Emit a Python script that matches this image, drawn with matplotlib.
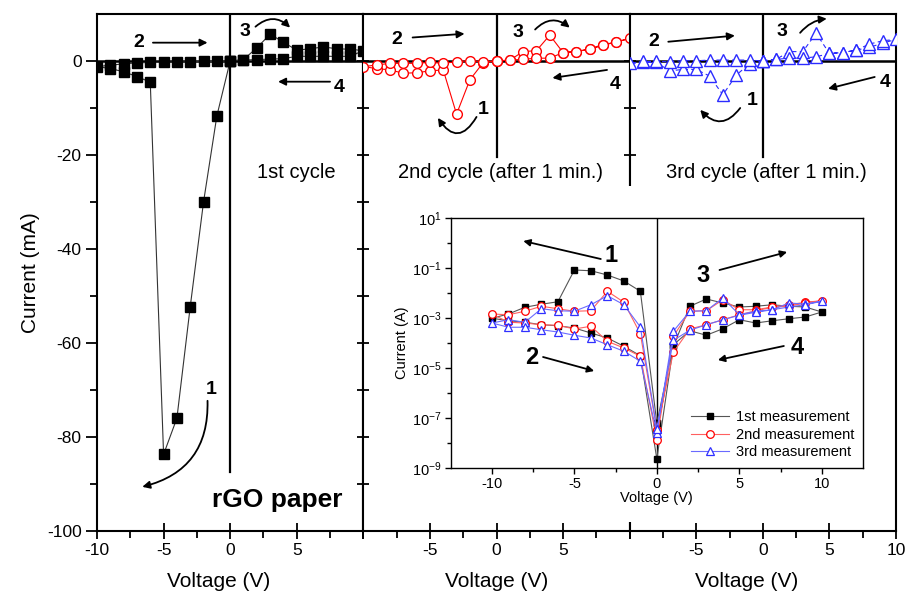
import numpy as np
import matplotlib
matplotlib.use("Agg")
import matplotlib.pyplot as plt
from matplotlib.patches import Rectangle
from matplotlib.ticker import NullFormatter

plt.rcParams['font.family'] = ['Liberation Sans', 'DejaVu Sans']
plt.rcParams['mathtext.fontset'] = 'custom'
plt.rcParams['mathtext.rm'] = 'Liberation Sans'
plt.rcParams['mathtext.it'] = 'Liberation Sans:italic'
plt.rcParams['mathtext.bf'] = 'Liberation Sans:bold'
plt.rcParams['axes.unicode_minus'] = False

# ---------------- data ----------------
# voltage sweep: 0 -> -10 -> 0 -> +10 -> 0 (V)
sweep_voltage = [0, -1, -2, -3, -4, -5, -6, -7, -8, -9, -10,
                 -9, -8, -7, -6, -5, -4, -3, -2, -1, 0,
                 1, 2, 3, 4, 5, 6, 7, 8, 9, 10,
                 9, 8, 7, 6, 5, 4, 3, 2, 1, 0]

# main panels: current (mA)
cycle1_current = [0, -11.7, -30.0, -52.3, -76.0, -83.7, -4.5, -3.3, -2.3, -1.6, -1.2,
                  -0.9, -0.6, -0.4, -0.3, -0.3, -0.2, -0.2, -0.1, -0.1, 0.0,
                  0.3, 2.8, 5.7, 4.0, 2.3, 2.6, 3.0, 2.6, 2.5, 2.2,
                  1.0, 1.0, 1.0, 1.0, 1.0, 0.5, 0.4, 0.3, 0.2, 0.0]
cycle2_current = [0, -0.35, -4.0, -11.3, -1.9, -2.1, -2.5, -2.6, -1.9, -1.6, -1.2,
                  -0.85, -0.5, -0.5, -0.5, -0.3, -0.5, -0.15, 0.05, -0.15, 0.0,
                  0.2, 2.0, 2.2, 5.5, 1.8, 2.0, 2.5, 3.3, 4.1, 4.8,
                  4.0, 3.5, 2.6, 2.0, 1.8, 0.6, 0.6, 0.35, 0.2, 0.0]
cycle3_current = [0, -0.6, -3.0, -7.2, -3.2, -1.8, -1.8, -2.1, -0.3, -0.3, -0.5,
                  -0.1, -0.1, -0.15, 0.05, 0.05, 0.2, 0.2, 0.2, 0.2, 0.0,
                  0.35, 2.0, 2.0, 5.9, 1.6, 1.8, 2.3, 2.9, 3.8, 4.6,
                  4.3, 3.6, 2.3, 1.8, 1.6, 0.9, 0.6, 0.6, 0.35, 0.0]

# inset: log10 of current (A)
inset_log_1st = [-7.2, -1.93, -1.52, -1.28, -1.11, -1.08, -2.35, -2.45, -2.57, -2.84, -3.01,
                 -3.11, -3.17, -3.27, -3.31, -3.40, -3.60, -3.80, -4.13, -4.51, -8.64,
                 -4.13, -2.53, -2.24, -2.40, -2.56, -2.53, -2.47, -2.53, -2.56, -2.76,
                 -2.96, -3.03, -3.11, -3.20, -3.07, -3.43, -3.69, -3.51, -4.07, -7.2]
inset_log_2nd = [-7.47, -3.63, -2.37, -1.93, -2.71, -2.73, -2.63, -2.53, -2.73, -2.87, -2.84,
                 -3.17, -3.20, -3.27, -3.29, -3.44, -3.33, -3.93, -4.20, -4.53, -7.87,
                 -3.73, -2.73, -2.71, -2.27, -2.67, -2.67, -2.56, -2.47, -2.37, -2.31,
                 -2.40, -2.53, -2.57, -2.71, -2.87, -3.07, -3.27, -3.44, -4.37, -7.47]
inset_log_3rd = [-7.44, -3.36, -2.47, -2.11, -2.47, -2.73, -2.71, -2.63, -3.17, -3.07, -3.20,
                 -3.37, -3.37, -3.47, -3.56, -3.69, -3.80, -4.07, -4.33, -4.73, -7.60,
                 -3.53, -2.73, -2.71, -2.20, -2.87, -2.73, -2.67, -2.40, -2.44, -2.33,
                 -2.47, -2.56, -2.67, -2.77, -2.89, -3.07, -3.27, -3.49, -3.89, -7.44]

panel_xticks = [-10, -5, 0, 5, 10]
panel_xticklabels = [['-10', '-5', '0', '5', ''],
                     ['', '-5', '0', '5', ''],
                     ['', '-5', '0', '5', '10']]
panel_titles = ['1st cycle', '2nd cycle (after 1 min.)', '3rd cycle (after 1 min.)']
legend_labels = ['1st measurement', '2nd measurement', '3rd measurement']

# ---------------- figure ----------------
W, H = 907, 603
fig = plt.figure(figsize=(W / 100, H / 100), dpi=100)

left_px, right_px, top_px, bot_px = 97, 896, 14, 531
pw = (right_px - left_px) / 3
axes = []
for i in range(3):
    ax = fig.add_axes([(left_px + i * pw) / W, 1 - bot_px / H, pw / W, (bot_px - top_px) / H])
    axes.append(ax)

styles = [
    dict(color='#333333', lw=0.8, marker='s', ms=7, mfc='black', mec='black', ls='-'),
    dict(color='red', lw=0.8, marker='o', ms=7, mfc='white', mec='red', mew=1.0, ls='-'),
    dict(color='#2b2bff', lw=0.8, marker='^', ms=8, mfc='white', mec='#2b2bff', mew=1.0,
         ls=(0, (4, 3))),
]
currents = [cycle1_current, cycle2_current, cycle3_current]
xlabel_centers = [0.455, 0.5, 0.44]

for i, ax in enumerate(axes):
    ax.set_xlim(-10, 10)
    ax.set_ylim(-100, 10)
    for s in ax.spines.values():
        s.set_linewidth(1.5)
    ax.axhline(0, color='black', lw=1.8, zorder=1)
    ax.plot(sweep_voltage, currents[i], zorder=3, clip_on=True, **styles[i])
    ax.set_xticks(panel_xticks)
    ax.set_xticklabels(panel_xticklabels[i])
    ax.set_xticks([-7.5, -2.5, 2.5, 7.5], minor=True)
    ax.tick_params(axis='x', which='major', direction='inout', length=11, width=1.3,
                   labelsize=12.5, pad=3)
    ax.tick_params(axis='x', which='minor', direction='out', length=5, width=1.3)
    ax.set_xlabel('Voltage (V)', fontsize=15)
    ax.xaxis.set_label_coords(xlabel_centers[i], -0.08)
    if i == 0:
        ax.set_yticks([0, -20, -40, -60, -80, -100])
        ax.set_yticks([-10, -30, -50, -70, -90], minor=True)
        ax.tick_params(axis='y', which='major', direction='out', length=8, width=1.3,
                       labelsize=12.5, pad=3)
        ax.tick_params(axis='y', which='minor', direction='out', length=5, width=1.3)
        ax.set_ylabel('Current (mA)', fontsize=15, labelpad=5)
        ax.axvline(0, ymin=0.115, ymax=1, color='black', lw=1.6, zorder=2)
    else:
        ax.set_yticks(list(range(-100, 11, 10)))
        ax.tick_params(axis='y', which='major', direction='inout', length=9, width=1.3,
                       labelleft=False)
        ax.axvline(0, ymin=0.724, ymax=1, color='black', lw=1.6, zorder=2)
    ax.text(0.3 if i else 5.0, -23.7, panel_titles[i], fontsize=14.5, ha='center',
            va='center', zorder=4)


def arrow(ax, tail, head, rad=0.0, lw=1.3, ms=11):
    ax.annotate('', xy=head, xytext=tail,
                arrowprops=dict(arrowstyle='-|>', color='black', lw=lw, mutation_scale=ms,
                                shrinkA=0, shrinkB=0,
                                connectionstyle='arc3,rad=%s' % rad), zorder=6)


def label(ax, x, y, s, size=14):
    ax.text(x, y, s, fontsize=size, fontweight='bold', ha='center', va='center', zorder=6)


a1, a2, a3 = axes
# panel 1
label(a1, -6.9, 3.9, '2'); arrow(a1, (-5.8, 3.9), (-1.7, 3.9))
label(a1, 1.1, 6.3, '3'); arrow(a1, (1.9, 7.3), (4.5, 7.1), rad=-0.45)
label(a1, 8.2, -5.7, '4'); arrow(a1, (7.5, -4.4), (3.6, -4.4))
label(a1, -1.4, -70.0, '1'); arrow(a1, (-1.7, -72.3), (-6.6, -90.6), rad=-0.4)
a1.text(3.5, -93.4, 'rGO paper', fontsize=19, fontweight='bold', ha='center', va='center')
# panel 2
label(a2, -7.5, 4.5, '2'); arrow(a2, (-6.3, 5.0), (-2.4, 5.8))
label(a2, 1.6, 6.0, '3'); arrow(a2, (2.9, 6.7), (5.5, 7.1), rad=-0.45)
label(a2, 8.9, -5.0, '4'); arrow(a2, (8.3, -1.9), (4.2, -3.6))
label(a2, -1.0, -10.4, '1'); arrow(a2, (-1.5, -11.9), (-4.4, -12.1), rad=-0.8)
# panel 3
label(a3, -8.2, 4.1, '2'); arrow(a3, (-7.1, 4.1), (-2.1, 5.4))
label(a3, 1.4, 6.2, '3'); arrow(a3, (2.8, 6.0), (4.8, 9.0), rad=-0.2)
label(a3, 9.2, -4.6, '4'); arrow(a3, (8.4, -3.4), (4.9, -5.9))
label(a3, -0.8, -8.3, '1'); arrow(a3, (-1.7, -10.0), (-4.7, -10.4), rad=-0.6)

# white area behind the inset
fig.add_artist(Rectangle((385 / W, 1 - 522 / H), 500 / W, (522 - 186) / H,
                         transform=fig.transFigure, facecolor='white', edgecolor='none',
                         zorder=1))

# ---------------- inset ----------------
axi = fig.add_axes([450.7 / W, 1 - 468 / H, 412.3 / W, 250 / H], zorder=5)
axi.set_facecolor('white')
axi.set_yscale('log')
axi.set_xlim(-12.5, 12.5)
axi.set_ylim(1e-9, 10)
axi.axvline(0, color='black', lw=1.0, zorder=1)
inset_styles = [
    dict(color='#555555', lw=0.8, marker='s', ms=4.5, mfc='black', mec='black'),
    dict(color='#ff6060', lw=0.8, marker='o', ms=5.5, mfc='white', mec='red', mew=0.9),
    dict(color='#6a6aff', lw=0.8, marker='^', ms=6, mfc='white', mec='#3030ff', mew=0.9),
]
for logs, st, lab in zip([inset_log_1st, inset_log_2nd, inset_log_3rd], inset_styles,
                         legend_labels):
    axi.plot(sweep_voltage, 10.0 ** np.array(logs), label=lab, zorder=3, **st)
axi.set_xticks([-10, -5, 0, 5, 10])
axi.set_xticks([-7.5, -2.5, 2.5, 7.5], minor=True)
axi.set_yticks([1e-9, 1e-7, 1e-5, 1e-3, 1e-1, 1e1])
axi.set_yticks([1e-8, 1e-6, 1e-4, 1e-2, 1e0], minor=True)
axi.yaxis.set_minor_formatter(NullFormatter())
axi.tick_params(which='major', direction='out', length=4.5, width=1.0, labelsize=10.5, pad=2)
axi.tick_params(which='minor', direction='out', length=3, width=1.0)
for s in axi.spines.values():
    s.set_linewidth(1.0)
axi.set_xlabel('Voltage (V)', fontsize=10.5, labelpad=0)
axi.set_ylabel('Current (A)', fontsize=10.5, labelpad=2)
axi.legend(loc='lower right', frameon=False, fontsize=10.5, handlelength=2.6,
           labelspacing=0.25, borderaxespad=0.2, handletextpad=0.5)


def ilabel(x, y, s):
    axi.text(x, y, s, fontsize=17, fontweight='bold', ha='center', va='center', zorder=6)


def iarrow(tail, head):
    axi.annotate('', xy=head, xytext=tail,
                 arrowprops=dict(arrowstyle='-|>', color='black', lw=1.3, mutation_scale=10,
                                 shrinkA=0, shrinkB=0), zorder=6)


ilabel(-2.8, 10 ** -0.48, '1'); iarrow((-3.4, 10 ** -0.64), (-8.1, 10 ** 0.08))
ilabel(-7.6, 10 ** -4.6, '2'); iarrow((-6.9, 10 ** -4.56), (-3.8, 10 ** -5.12))
ilabel(2.8, 10 ** -1.28, '3'); iarrow((3.8, 10 ** -1.08), (7.9, 10 ** -0.36))
ilabel(8.5, 10 ** -4.2, '4'); iarrow((7.7, 10 ** -4.12), (3.7, 10 ** -4.68))

fig.savefig('out.png', dpi=100)
